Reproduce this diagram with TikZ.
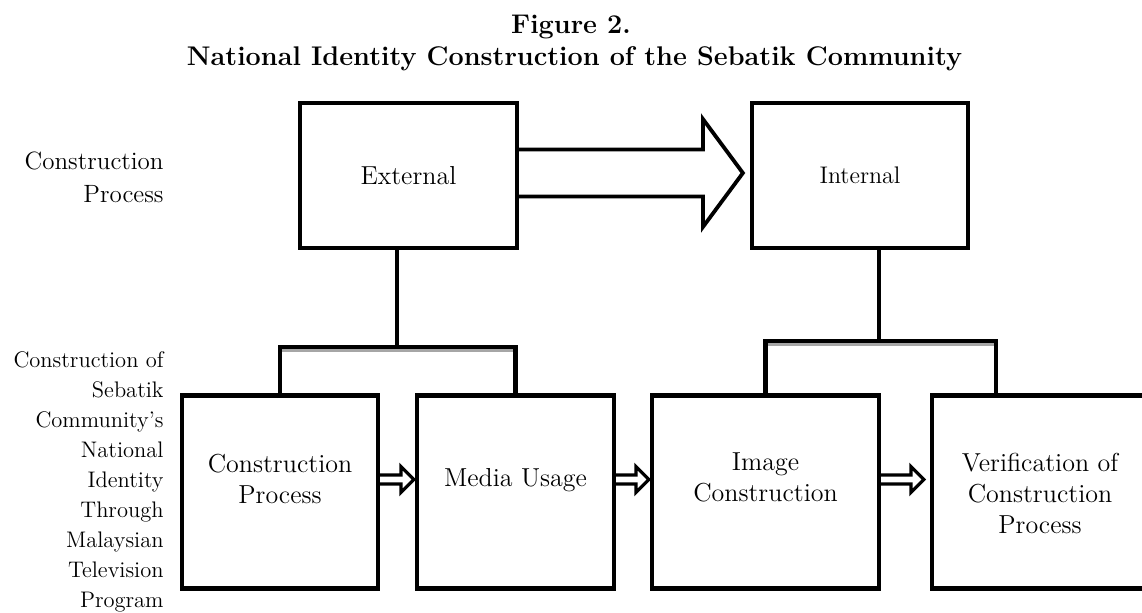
\documentclass[tikz,border=0pt]{standalone}
\usepackage{tikz}
\usetikzlibrary{calc,positioning}

\tikzset{
  box/.style={draw,line width=2.1pt,inner sep=0pt,align=center},
  boxtext/.style={inner sep=0pt,align=center,font=\fontsize{13}{15.5}\selectfont},
  side/.style={anchor=east,inner sep=0pt,align=right},
  link/.style={line width=2.1pt},
  shadow/.style={line width=1.5pt,gray!70},
  bigarrow/.style={line width=1.9pt,fill=white},
  smallarrow/.style={line width=1.6pt,fill=white}
}

\begin{document}
\begin{tikzpicture}[x=0.5pt,y=-0.5pt]
\useasboundingbox (0,0) rectangle (1142,612);

% title
\node[anchor=base,font=\bfseries\fontsize{13.5}{16}\selectfont] (fig) at (571,33) {Figure 2.};
\node[anchor=base,font=\bfseries\fontsize{13.5}{16}\selectfont] (title) at (574.5,65) {National Identity Construction of the Sebatik Community};

% row labels
\node[side,font=\fontsize{12.5}{16.5}\selectfont] (toplab) at (164,177) {Construction\\Process};
\node[side,font=\fontsize{11.25}{15}\selectfont] (botlab) at (164,481.5) {Construction of\\Sebatik\\Community's\\National\\Identity\\Through\\Malaysian\\Television\\Program};

% upper boxes
\node[box,minimum width=108.5pt,minimum height=72.5pt,font=\fontsize{13}{15.5}\selectfont] (ext) at (408.5,175.5) {External};
\node[box,minimum width=108pt,minimum height=72.5pt,font=\fontsize{12}{14}\selectfont] (int) at (860,175.5) {Internal};

% lower boxes
\node[box,minimum width=98pt,minimum height=96.5pt] (cp) at (280,492) {};
\node[box,minimum width=98.5pt,minimum height=96.5pt] (mu) at (515.5,492) {};
\node[box,minimum width=113.5pt,minimum height=96.5pt] (ic) at (765.5,492) {};
\node[box,minimum width=108pt,minimum height=96.5pt] (vc) at (1040,492) {};
\node[boxtext] (cptext) at (280,478.5) {Construction\\Process};
\node[boxtext] (mutext) at (515.5,480.5) {Media Usage};
\node[boxtext] (ictext) at (765.5,477) {Image\\Construction};
\node[boxtext] (vctext) at (1040,493) {Verification of\\Construction\\Process};

% big arrow
\path ($(ext.east)+(0,-2.5)$) coordinate (ba0) (ba0 -| int.west) coordinate (ba1);
\draw[bigarrow] ($(ba0)+(0,-23.5)$) -- ($(ba1)+(-47,-23.5)$) -- ($(ba1)+(-47,-54)$)
  -- ($(ba1)+(-7,0)$) -- ($(ba1)+(-47,54)$) -- ($(ba1)+(-47,23.5)$) -- ($(ba0)+(0,23.5)$);

% brackets
\coordinate (extstub) at (397,347);
\coordinate (intstub) at (879,341);
\coordinate (vcleg) at ($(vc.north)+(-44,0)$);
\draw[shadow] ($(cp.north |- extstub)+(0,3.5)$) -- ($(mu.north |- extstub)+(0,3.5)$);
\draw[shadow] ($(ic.north |- intstub)+(0,3.5)$) -- ($(vcleg |- intstub)+(0,3.5)$);
\draw[link] (ext.south -| extstub) -- (extstub);
\draw[link] (cp.north) |- (extstub) -| (mu.north);
\draw[link] (int.south -| intstub) -- (intstub);
\draw[link] (ic.north) |- (intstub) -| (vcleg);

% small arrows
\foreach \a/\b/\g in {cp/mu/1,mu/ic/1,ic/vc/6}{
  \path ($(\a.east)+(0,-12.5)$) coordinate (s0) (s0 -| \b.west) coordinate (s1);
  \draw[smallarrow] ($(s0)+(0,-4.5)$) -- ($(s1)+(-13-\g,-4.5)$) -- ($(s1)+(-13-\g,-13)$)
    -- ($(s1)+(-\g,0)$) -- ($(s1)+(-13-\g,13)$) -- ($(s1)+(-13-\g,4.5)$) -- ($(s0)+(0,4.5)$);
}
\end{tikzpicture}
\end{document}
